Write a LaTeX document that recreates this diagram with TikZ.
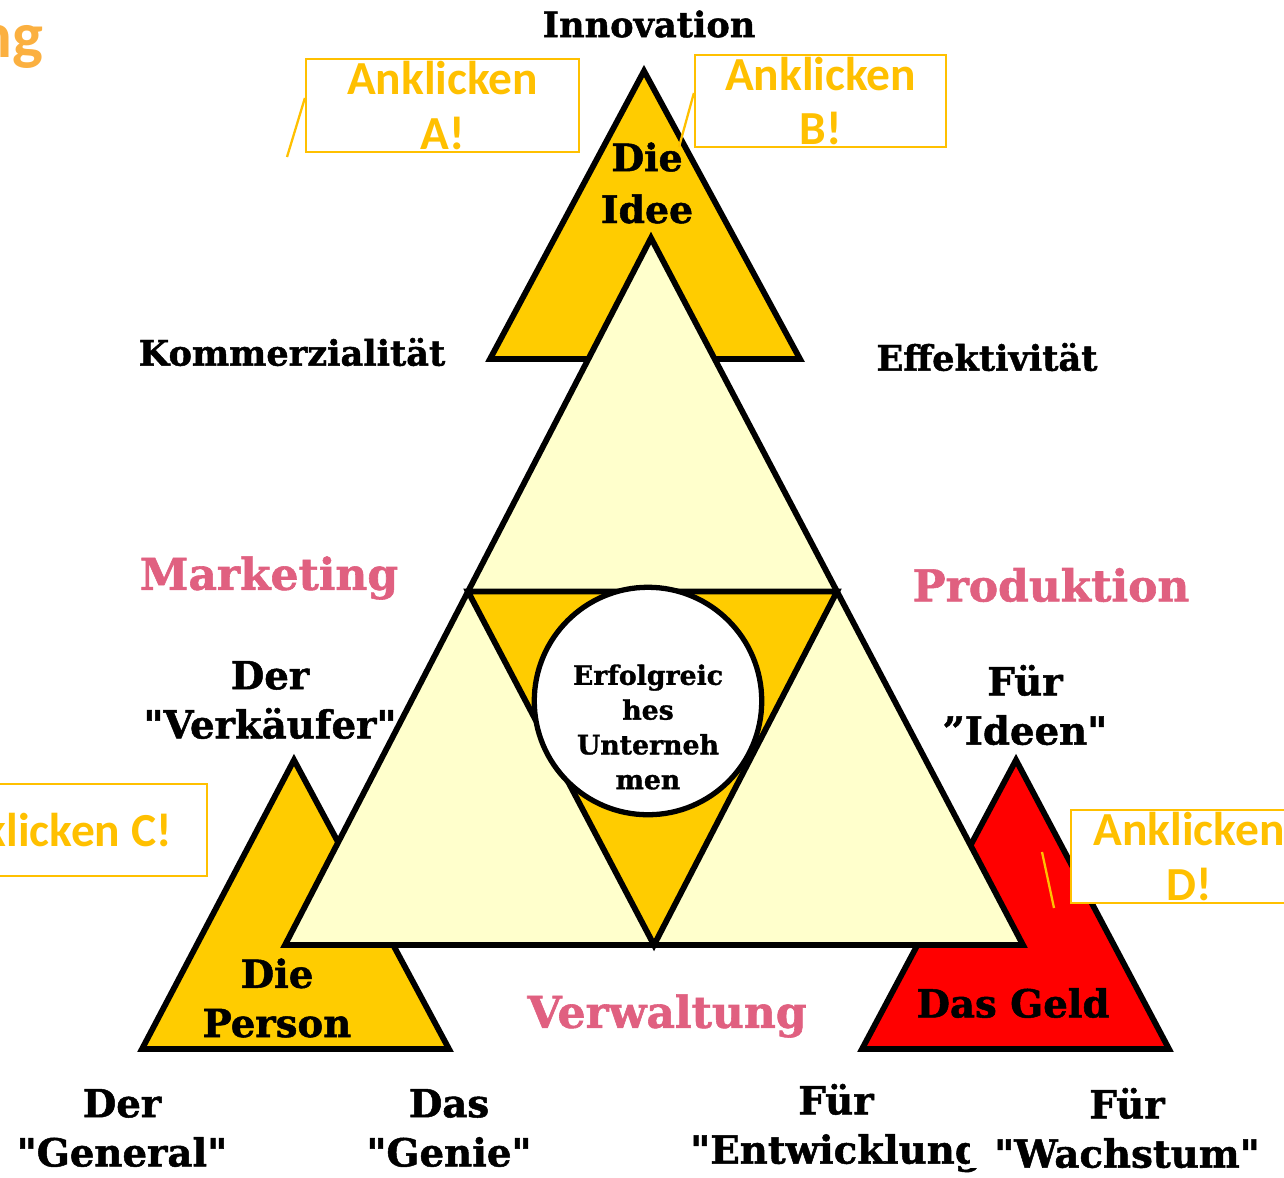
\documentclass[tikz,border=0pt]{standalone}
\usepackage{fontspec}
\setmainfont{DejaVu Serif}[BoldFeatures={FakeBold=1.3}]
\newfontfamily\cf{Carlito}
\usetikzlibrary{calc}
\definecolor{gold}{HTML}{FFCC00}
\definecolor{pale}{HTML}{FFFFCC}
\definecolor{clickc}{HTML}{FFC000}
\definecolor{pinkc}{HTML}{E06080}
\definecolor{orangec}{HTML}{FBB040}
\newcommand{\sq}{\textquotedbl}
\tikzset{
  tri/.style={draw=black, line width=3.3pt, line join=miter},
  lbl/.style={font=\bfseries\fontsize{20}{24}\selectfont, align=center, inner sep=0pt},
  lblb/.style={font=\bfseries\fontsize{22}{28}\selectfont, align=center, inner sep=0pt},
  pinklbl/.style={font=\bfseries\fontsize{25}{28}\selectfont, text=pinkc, inner sep=0pt},
  clickbox/.style={draw=clickc, line width=1.3pt, fill=white, rectangle, inner sep=0pt},
  clicktxt/.style={font=\cf\bfseries\fontsize{27}{31}\selectfont, text=clickc, align=center, inner sep=0pt},
  pointer/.style={draw=clickc, line width=1.3pt}
}
\begin{document}
\begin{tikzpicture}[x=0.02cm, y=-0.02cm]
\path[use as bounding box] (0,0) rectangle (1284,1177);

% triangles behind
\coordinate (tA) at (644,71);
\coordinate (tL) at (490,359);
\coordinate (tR) at (800,359);
\filldraw[tri, fill=gold] (tA) -- (tL) -- (tR) -- cycle;

\coordinate (lA) at (294,760);
\coordinate (lL) at (142,1049);
\coordinate (lR) at (449,1049);
\filldraw[tri, fill=gold] (lA) -- (lL) -- (lR) -- cycle;

\coordinate (rA) at (1016,760);
\coordinate (rL) at (862,1049);
\coordinate (rR) at (1169,1049);
\filldraw[tri, fill=red] (rA) -- (rL) -- (rR) -- cycle;

% big triangle
\coordinate (bA) at (651,238);
\coordinate (bL) at (285,945);
\coordinate (bR) at (1023,945);
\filldraw[tri, fill=pale] (bA) -- (bL) -- (bR) -- cycle;
\coordinate (mL) at ($(bA)!0.5!(bL)$);
\coordinate (mR) at ($(bA)!0.5!(bR)$);
\coordinate (mB) at ($(bL)!0.5!(bR)$);
\filldraw[tri, fill=gold] (mL) -- (mR) -- (mB) -- cycle;

% circle
\node[circle, draw=black, line width=3pt, fill=white, minimum size=4.55cm, inner sep=0pt] (circ) at (648,701) {};
\node[font=\bfseries\fontsize{15.2}{19.8}\selectfont, align=center, inner sep=0pt] (erf) at (648,727) {Erfolgreic\\hes\\Unterneh\\men};

% black labels
\node[lbl] (innov) at (649,24) {Innovation};
\node[font=\bfseries\fontsize{21.5}{29.5}\selectfont, align=center, inner sep=0pt] (idee) at (647,183) {Die\\Idee};
\node[lbl] (komm) at (292,352) {Kommerzialität};
\node[lbl] (eff) at (987,357) {Effektivität};
\node[lblb] (verk) at (270,700) {Der\\\sq Verkäufer\sq};
\node[lblb] (ideen) at (1025,705) {Für\\”Ideen\sq};
\node[lblb] (person) at (277,998) {Die\\Person};
\node[lblb] (geld) at (1013,1003) {Das Geld};
\node[lblb] (general) at (122,1128) {Der\\\sq General\sq};
\node[lblb] (genie) at (449,1128) {Das\\\sq Genie\sq};
\node[lblb] (entw) at (836,1128) {Für\\\sq Entwicklung};
\node[lblb, fill=white, inner xsep=14pt] (wachs) at (1127,1128) {Für\\\sq Wachstum\sq};

% pink labels
\node[pinklbl] (mark) at (269,578) {Marketing};
\node[pinklbl] (prod) at (1051,585) {Produktion};
\node[pinklbl] (verw) at (667,1016) {Verwaltung};

% Anklicken boxes
\node[clickbox, minimum width=5.46cm, minimum height=1.86cm] (boxA) at (442.5,105.5) {};
\node[clicktxt] (txtA) at (442.5,105.5) {Anklicken\\A!};
\draw[pointer] (boxA.west |- 98,98) -- (287,157);

\node[clickbox, minimum width=5.02cm, minimum height=1.84cm] (boxB) at (820.5,101) {};
\node[clicktxt] (txtB) at (820.5,101) {Anklicken\\B!};
\coordinate (pB) at (679,147);
\draw[pointer] (boxB.west |- 93,93) -- (pB);

\node[clickbox, minimum width=5.74cm, minimum height=1.84cm] (boxC) at (63.5,830) {};
\node[clicktxt, anchor=east] (txtC) at (172,830) {Anklicken C!};

\node[clickbox, minimum width=4.72cm, minimum height=1.86cm] (boxD) at (1189,856.5) {};
\node[clicktxt] (txtD) at (1189,856.5) {Anklicken\\D!};
\coordinate (pD) at (1054,908);
\coordinate (pD2) at (1042,852);
\draw[pointer] (pD2) -- (pD);

% top-left fragment
\node[font=\cf\bfseries\fontsize{37}{40}\selectfont, text=orangec, anchor=base east, inner sep=0pt] (ng) at (44,57) {ng};
\end{tikzpicture}
\end{document}
